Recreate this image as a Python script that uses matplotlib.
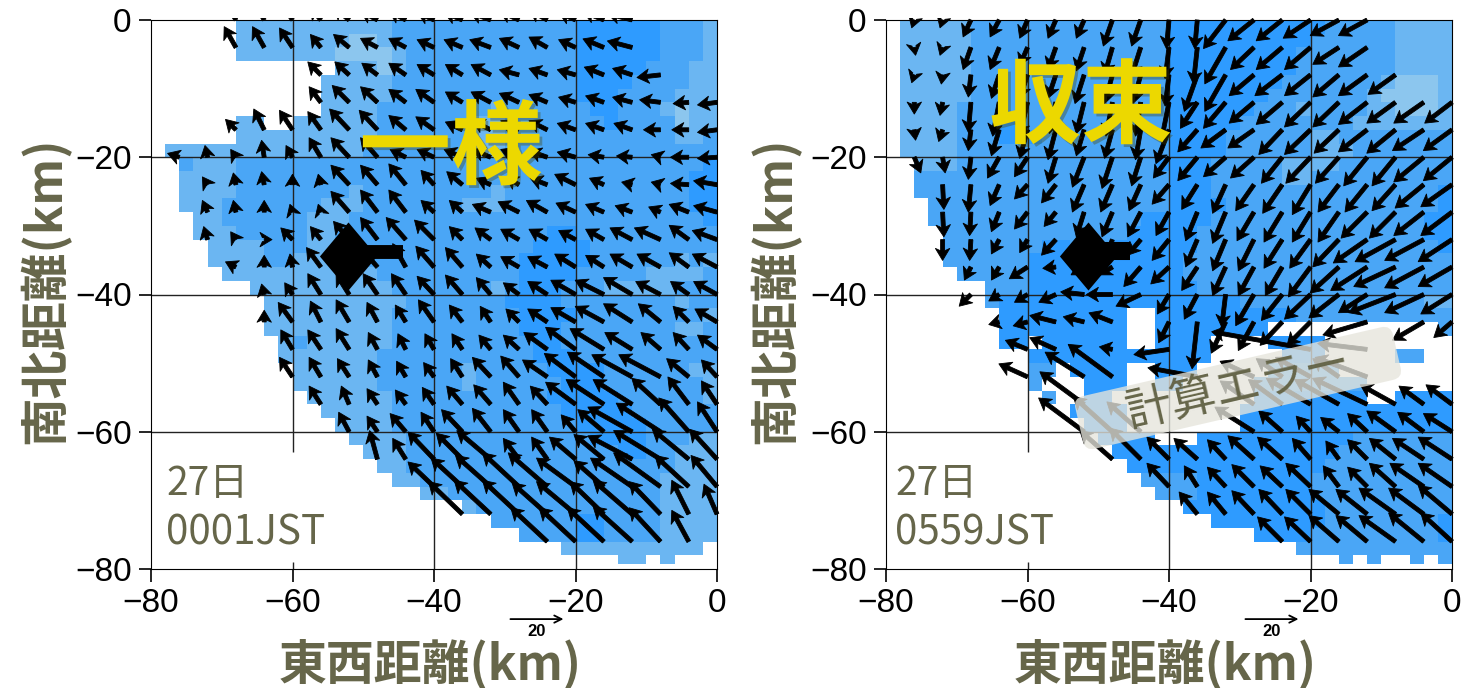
import numpy as np
import matplotlib
matplotlib.use('Agg')
import matplotlib.pyplot as plt
import matplotlib.patheffects as pe
from matplotlib.colors import ListedColormap
from matplotlib.patches import FancyBboxPatch, Rectangle
from matplotlib.transforms import Affine2D

N = np.nan

# arrow grid (km)
grid_x = [-76, -72, -68, -64, -60, -56, -52, -48, -44, -40, -36, -32, -28, -24, -20, -16, -12, -8, -4, 0]
grid_y = [0, -4, -8, -12, -16, -20, -24, -28, -32, -36, -40, -44, -48, -52, -56, -60, -64, -68, -72, -76]

# first grid column used in each row, then the winds
left_start = [2, 2, 5, 5, 2, 0, 1, 1, 1, 2, 3, 3, 4, 4, 5, 6, 7, 9, 10, 13]
left_u = [
    [-4.5, -4.5, -5, -4, -6, -6.5, -6.5, -6.5, -7, -8, -7.5, -7, -6.5, -8, -9.5],
    [-4.5, -4.5, -5, -4, -6, -6.5, -6.5, -6.5, -7, -8, -7.5, -7, -6.5, -8, -9.5],
    [-5, -5.5, -6, -6.5, -6.5, -6.5, -7.5, -7.5, -7, -7, -7.5, -7.5, -9],
    [-4.5, -6.5, -6.5, -6.5, -7, -6.5, -7.5, -7.5, -7, -6.5, -7, -7.5, -8, -6, -7.5],
    [-4, -4, -5, -5, -7.5, -7, -6.5, -7, -6.5, -7, -7, -7, -7, -7, -7, -6.5, -6.5, -7.5],
    [-4.5, -1, -2, -1, -2.5, -4.5, -7, -6.5, -6, -6.5, -7, -7, -7, -7, -7, -6, -6, -3.5, -7, -7.5],
    [-2, -1, -1, 0, -1, -7, -6.5, -6.5, -5, -6, -5.5, -5, -6.5, -8, -5.5, -4, -3.5, -7, -9],
    [-2, -1, 0, -1, -1, -7, -6.5, -6.5, -5, -5, -7, -8, -8, -7.5, -7, -6.5, -4.5, -7.5, -9],
    [-1.5, -2, 3, -4.5, -4, -6, -6.5, -7.5, -7.5, -5, -6, -7, -7, -6.5, -7, -8.5, -10, -7.5, -9.5],
    [-4, 0, -1, -5.5, -6, -6, -5, -7, -6.5, -5.5, -7, -7.5, -8, -7, -8.5, -9, -7.5, -9.5],
    [-1, -3, -5, -5, -5.5, -5.5, -6.5, -6.5, -5.5, -6, -7.5, -9.5, -11, -11, -9.5, -7, -9],
    [0, -5.5, -4, -5, -4, -4, -6, -5, -4, -5, -7.5, -9.5, -11, -11, -8.5, -6, -8.5],
    [-4.5, -5, -5, -3.5, -3, -3.5, -4, -4.5, -6, -9, -11.5, -13, -10.5, -7.5, -6, -7.5],
    [-5, -4.5, -4.5, -3.5, -3.5, -4, -4.5, -7, -7, -9.5, -12, -14, -15.5, -16, -8.5, -6],
    [-4.5, -3, -4, -4, -4.5, -6, -6.5, -6, -6.5, -11.5, -14.5, -15, -11, -8, -6],
    [-4, -4, -6, -5, -8, -7, -6, -6, -5.5, -10, -17, -17, -11.5, -7.5],
    [-3, -5, -10, -10, -13, -6, -6, -10, -11.5, -17, -18, -14, -10.5],
    [-10, -12, -13.5, -14, -15, -15, -11.5, -16, -18, -13, -10],
    [-13, -14, -14, -13.5, -15, -13, -15, -12, -6.5, -5],
    [-14, -14, -14, -15, -12, -6.5],
]
left_v = [
    [8, 8, 7.5, 5, 5, 3.5, 3.5, 3, 3, 3, 3.5, 4, 3, 3.3, 2.5],
    [8, 8, 7.5, 5, 5, 3.5, 3.5, 3, 3, 3, 3.5, 4, 3, 3.3, 2.5],
    [5, 5, 4.5, 4.5, 4, 4, 4, 2, 2.5, 2, 3, 2.5, -1],
    [6, 6.5, 6, 5, 5, 4, 4, 3.5, 3, 2, 2.5, 2, 1, -0.5, -1],
    [4, 8, 7.5, 7, 8, 7.5, 5.5, 5, 3, 3.5, 3.5, 3.5, 2.5, 2.5, 2.5, 0, 0, -1],
    [1.5, 4.5, 3, 6.5, 4.5, 7.5, 7.5, 7.5, 3, 3, 3, 3, 3, 2.5, 2, 1, 0.5, 1, 0, -0.5],
    [3, 4.5, 5, 4, 4, 7.5, 7.5, 8, 5.5, 5, 2.5, 3, 2.5, 4, 2.5, 1, 1, 0.5, 1.5],
    [4.5, 4.5, 4.5, 3, 3, 8, 8.5, 8.5, 4.5, 4.5, 3, 4, 4.5, 3.5, 3, 2.5, 2, 3, 2.5],
    [5, 3, 0, 4.5, 5, 7, 8.5, 8.5, 7.5, 5, 4.5, 4, 4, 3.5, 4, 4.5, 4.5, 5.5, 3.5],
    [2, 4.5, 5, 7.5, 7, 7, 9, 8, 7.5, 5, 4, 4, 5, 4.5, 5, 5, 5.5, 5],
    [4, 4.5, 8, 8, 8, 8, 7, 7.5, 6.5, 4.5, 5, 5.5, 5.5, 6.5, 5, 5, 5],
    [4.5, 7.5, 8, 8.5, 7.5, 6.5, 8.5, 6.5, 6, 5, 5, 5.5, 6, 7, 7, 6, 5],
    [7.5, 7.5, 8, 6.5, 6, 6, 6, 5.5, 5.5, 6.5, 8.5, 8, 6.5, 6.5, 6.5, 5.5],
    [7.5, 7.5, 7, 6.5, 6, 5.5, 7, 7.5, 8, 6.5, 9, 9.5, 8.5, 8.5, 7, 6.5],
    [7, 7, 6, 5.5, 6.5, 7, 7.5, 8.5, 7, 8.5, 9.5, 9.5, 10, 10.5, 9],
    [7.5, 6, 7, 7.5, 8.5, 9, 8.5, 8.5, 6.5, 8.5, 9.5, 11, 13, 11.5],
    [11, 8, 10.5, 10, 11, 8, 8.5, 8.5, 9.5, 9, 11, 11.5, 11.5],
    [9.5, 11, 12, 13, 13, 11, 10, 11, 13, 12, 12],
    [12.5, 13, 13, 12, 12.5, 12.5, 13, 12.5, 13, 11.5],
    [13, 13, 13, 13.5, 13, 12],
]

right_start = [0, 0, 0, 0, 0, 0, 1, 1, 1, 2, 2, 3, 4, 4, 6, 6, 7, 9, 10, 13]
right_u = [
    [-1, -1, -3, -3.5, -3, -3, -3, -3.5, -3.5, -1, -1, -8.5, -10, -10, -10.5, -11, -11],
    [0.5, -1, -3, -3.5, -3, -3, -3, -3, -3.5, -1.5, -1.5, -8, -9, -10, -10, -10, -11],
    [-1, -0.5, -1, -3, -3, -3, -3.5, -3, -3, -1.5, -5, -8, -9.5, -10.5, -10, -10, -11, -10.5],
    [0, -1, -1, -2.5, -3, -2.5, -3, -2.5, -2, -3, -6.5, -8.5, -9.5, -10, -10, -10, -11, -11, -11.5, -10.5],
    [0.5, -1.5, -1, -3, -3, -3, -3, -3, -2, -5, -7.5, -9.5, -10, -9, -10, -9.5, -11, -11, -12, -11],
    [2.5, 1, -1, -4.5, -5, -3, -4.5, -4, -3.5, -6, -7.5, -8.5, -9, -8, -9.5, -9, -9, -9, -11.5, -11],
    [0.5, -1, -3.5, -5, -5.5, -4.5, -4.5, -4.5, -6.5, -6, -5, -7, -7.5, -7, -8, -8.5, -9, -11, -12],
    [0.5, -0.5, -3, -5, -4.5, -3, -4, -5, -5, -4.5, -5, -6.5, -7, -7, -8, -10, -10, -11.5, -12],
    [0, -0.5, -3, -3, -5.5, -3, -3, -5, -6.5, -4.5, -5, -6, -7, -8, -10, -13, -15.5, -15, -13],
    [-2.5, -3, -7, -5, -5, -5, -6.5, -7, -6, -5, -6, -6.5, -8.5, -11, -14, -16, -15, -13],
    [-4.5, -4, -5, -6.5, -9, -10, -9.5, -4.5, -5, -1.5, -7, -8, -10, -11.5, -11, -18, -15, -12],
    [-4, -5.5, -10, -8, -9, N, -4, -2, -5.5, -6, -8.5, -9, N, -17, N, -12, -7],
    [-8.5, -10, N, -5, N, -13.5, N, N, N, N, -38, N, -19],
    [-11, N, -15, -17, N, N, -19, N, -13, -10, -13.5, -10, -20],
    [-17, N, N, N, N, N, -13, -13, -17, -17, -21, -13.5, -9.5, -10],
    [-17.5, -15, -13, N, N, N, -15, -9, -5.5, -7, -7.5, -11, -10, -11],
    [-12.5, -12, -8.5, -9, -7, -10, -9.5, -7, -5, -7.5, -10, -12, -13],
    [-8.5, -5, -7, -8.5, -8.5, -9.5, -6, -7.5, -10, -13, -13],
    [-7, -7, -8.5, -9, -9.5, -11.5, -12, -14, -13.5, -13],
    [-9.5, -10, -11.5, -12, -14, -13.5, -12],
]
right_v = [
    [-3, -3, -6.5, -6.5, -7, -7, -7, -10, -10, -11, -11, -11, -8, -8, -7, -6, -6],
    [-3, -3, -8.5, -8.5, -7, -8.5, -9, -10.5, -11, -12, -14, -14, -8.5, -8.5, -8.5, -6.5, -7.5],
    [-3, -3.5, -8.5, -9, -9, -9, -11, -11, -11, -12, -14, -14, -8, -8, -8, -8.5, -8, -7.5],
    [-4.5, -5, -11.5, -13, -13, -12, -12, -13, -13, -15, -10, -10, -8, -8.5, -9.5, -9.5, -8.5, -8, -8, -8],
    [-4, -4.5, -8, -10, -11, -11.5, -10, -11, -11.5, -13, -8.5, -7, -7, -9.5, -9.5, -9, -8.5, -9, -8, -8],
    [-6, -6, -8.5, -8, -7.5, -10, -11.5, -12, -11, -8, -9, -7.5, -8, -10, -10, -10, -11, -11, -9.5, -9],
    [-9.5, -10.5, -8, -5.5, -7, -10.5, -10.5, -10, -7.5, -9.5, -11, -10, -11, -11.5, -10.5, -10.5, -10, -9, -8.5],
    [-9.5, -9, -7.5, -6.5, -5.5, -9.5, -9.5, -9.5, -9, -11, -12, -11, -11.5, -11.5, -11.5, -10, -10, -9, -9],
    [-8, -8, -5.5, -5, -6, -8, -8, -6, -8, -10.5, -12, -12, -11, -11, -10.5, -9, -8.5, -8, -8.5],
    [-5, -5, -4.5, -0.5, -3, -3, -7.5, -6.5, -9, -11, -11, -11, -11.5, -10, -9, -7.5, -8, -7.5],
    [-4.5, -2.5, -3, -3, 1, 0, -4.5, -7.5, -9.5, -12.5, -12, -10, -9.5, -9, -7, -7, -7, -7.5],
    [-1, -1.5, 2.5, 2, 3.5, N, -8, -18, -12, -11, -9, -9, N, -5, N, -7, -6],
    [3.5, 4.5, N, 1, N, -2, N, N, N, N, 6.8, N, 2.3],
    [5, N, 9.5, 12.5, N, N, 3.5, N, 6, 7, 7.5, 7, 7.5],
    [12.5, N, N, N, N, N, 9, 9.5, 10, 9.5, 10, 7.5, 7, 7.5],
    [13, 13.5, 11.5, N, N, N, 9.5, 8, 6, 5.5, 7, 8, 7.5, 7],
    [11, 12, 8.5, 8, 7.5, 9, 8.5, 8, 7, 7.5, 8, 8, 8.5],
    [9, 8, 7.5, 8.5, 8, 9, 8, 7.5, 9, 9, 9],
    [8.5, 8.5, 9, 9.5, 9.5, 9.5, 9.5, 10, 10, 11],
    [9.5, 9.5, 10, 10, 10, 11, 11],
]

# echo level per 2 km cell, top row first, '.' = no data
left_field = [
    "..... .1111 11111 11222 22222 22222 33333 32221",
    "..... .1111 11110 01222 22222 22222 33333 32221",
    "..... .1111 11100 00122 22222 22222 33333 32221",
    "..... ..... ...11 10122 22222 22222 33333 22211",
    "..... ..... ..111 11222 22222 22222 33332 22211",
    "..... ..... ..111 11222 22222 22222 33322 22111",
    "..... ..... ..111 12222 22221 22222 23322 21011",
    "..... .11.. 11111 12222 22211 22222 22322 22011",
    "..... .1111 11111 12222 22211 22222 22222 22112",
    ".1111 11111 11111 22222 22211 22222 22222 22222",
    "..211 12222 22222 22222 22222 22222 22222 22223",
    "..111 12222 22222 22222 22222 22222 22222 22233",
    "..111 12222 22221 22222 22221 22222 22222 22233",
    "..111 22222 22111 22222 22111 22222 22222 22233",
    "...11 22222 21112 22222 22222 22222 22222 22223",
    "...11 12222 21122 22222 22222 22233 22222 22222",
    "....1 11122 21122 22222 22222 22333 32222 22222",
    "....1 11122 11111 22222 22222 23333 32222 22121",
    "..... 11111 11111 12222 22222 23333 22222 11112",
    "..... ..111 11111 11222 22221 23332 22111 11222",
    "..... ...11 11111 11122 22222 33332 22222 22122",
    "..... ...11 11111 11222 22222 23333 22222 22221",
    "..... ...11 11111 11222 22222 23332 22222 22112",
    "..... ....1 21111 11222 22222 22332 22222 22222",
    "..... ....1 11111 12222 22222 22333 22222 22222",
    "..... ..... 11111 12222 22122 22233 33222 22211",
    "..... ..... 11111 12222 22122 22223 33222 22221",
    "..... ..... .1111 11222 22222 22233 33322 22221",
    "..... ..... ..111 11222 22222 22223 33332 22222",
    "..... ..... ...11 11222 22222 22222 33333 22222",
    "..... ..... ....1 11122 22222 22222 23333 22211",
    "..... ..... ..... 11122 22222 22222 22233 22111",
    "..... ..... ..... .1122 22222 22222 22222 22111",
    "..... ..... ..... ..112 22222 22222 22222 21111",
    "..... ..... ..... ....1 12222 22222 22222 21111",
    "..... ..... ..... ..... ..122 22222 22222 21111",
    "..... ..... ..... ..... ....2 22222 33222 21111",
    "..... ..... ..... ..... ..... .2222 33222 21111",
    "..... ..... ..... ..... ..... ....1 11111 1111.",
    "..... ..... ..... ..... ..... ..... ...11 .1...",
]
right_field = [
    ".1111 12222 22222 22222 33333 33333 32222 21111",
    ".1111 12222 22222 22222 33333 33333 22222 21111",
    ".1111 12222 22222 22222 33333 33332 22222 21111",
    ".1111 12222 22222 22222 33333 33332 22222 21111",
    ".1111 12222 22222 22222 33333 33322 22222 10001",
    ".1111 12222 22222 22222 33333 33222 22221 00001",
    ".1111 22222 22222 22222 33333 32221 22221 10001",
    ".1111 22233 22222 22222 33333 22222 22211 11111",
    ".1111 22233 32222 22222 33332 22222 11222 22222",
    ".1111 22222 22222 22222 33332 22222 11122 22222",
    "..111 22222 22222 22223 33322 22211 11222 22222",
    "..222 22222 22222 22222 33322 22211 22222 22222",
    "..222 22222 22222 22222 33322 22222 22222 22223",
    "...22 22222 22222 22222 33332 22222 22222 22223",
    "...22 22222 22222 22233 33322 22222 22222 22233",
    "....2 22222 22222 22333 33222 22222 22222 22233",
    "....2 22222 23322 23333 33222 22222 22222 22223",
    "....2 22222 33333 33333 32222 22222 22222 22222",
    "..... 22222 33333 33333 32222 22222 22222 22222",
    "..... ..222 33333 33333 33222 22222 22222 22222",
    "..... ..233 33333 33333 33333 22222 22222 22211",
    "..... ...33 33333 33..3 33333 33332 22222 22222",
    "..... ...33 33333 33..3 33333 33... ..... ....2",
    "..... ...33 .3333 33..3 333.. ..333 3.... .....",
    "..... ..... 33333 33333 333.. ...33 3.... .22..",
    "..... ..... 22.33 33..3 33... ..222 22... .....",
    "..... ..... 2...3 33..3 3.... .2222 2222. .....",
    "..... ..... .2..3 3.... ..... .3333 3333. .3333",
    "..... ..... ...33 33... ..... 33333 33333 33333",
    "..... ..... ....3 33... ..... 33333 33333 33333",
    "..... ..... ..... 3333. ..333 33333 33322 22222",
    "..... ..... ..... .3333 33333 33333 33222 22222",
    "..... ..... ..... ..333 33333 33333 32222 22222",
    "..... ..... ..... ...22 22333 33333 22222 22222",
    "..... ..... ..... ....2 22333 33333 22222 22222",
    "..... ..... ..... ..... .3333 33333 32222 22222",
    "..... ..... ..... ..... ...33 33333 32222 22223",
    "..... ..... ..... ..... ..... .3333 22222 22223",
    "..... ..... ..... ..... ..... ....2 22222 22222",
    "..... ..... ..... ..... ..... ..... ..2.2 ..2.2",
]
level_colors = ['#8cc6ee', '#6bb6f2', '#4aa6f6', '#2e9bff']

ticks = [-80, -60, -40, -20, 0]
times = ['0001JST', '0559JST']
titles = ['一様', '収束']
site_x = [-52.1, -51.4]
site_y = [-34.4, -34.4]
wedge_from = [-50.0, -49.5]
wedge_to = [-44.4, -45.5]
wedge_y = [-33.8, -33.6]
wedge_lw = [10, 13]
ylabel_x = [45, 775]
stamp_x = [166, 895]

W, H = 1479, 688
ink = '#66664a'
jp = ['Noto Sans CJK JP', 'DejaVu Sans']
num_font = ['Liberation Sans Narrow', 'Liberation Sans']
site_marker = [(-0.84, 0), (0, 1), (0.84, 0), (0, -1)]

fig = plt.figure(figsize=(W / 100, H / 100), dpi=100)


def px(x, y):
    return x / W, 1 - y / H


def field_array(rows):
    out = np.full((40, 40), np.nan)
    for j, row in enumerate(rows):
        row = row.replace(' ', '')
        for i, c in enumerate(row[:40]):
            if c != '.':
                out[j, i] = int(c)
    return np.ma.masked_invalid(out)


def draw_panel(left_px, field, start, u_rows, v_rows, idx):
    ax = fig.add_axes([left_px / W, (H - 569) / H, 566 / W, 549 / H])
    xe = np.arange(-80, 1, 2)
    ye = np.arange(0, -81, -2).astype(float)
    ye[-1] = -79.2
    ax.pcolormesh(xe, ye, field_array(field), cmap=ListedColormap(level_colors),
                  vmin=-0.5, vmax=3.5, zorder=1)

    # grid, the -60 line stops above the time label
    for g in [-20, -40, -60]:
        ax.axhline(g, color='#222222', lw=1, zorder=2)
    for g in [-20, -40]:
        ax.axvline(g, color='#222222', lw=1, zorder=2)
    ax.vlines(-60, -63, 0, color='#222222', lw=1, zorder=2)
    ax.vlines(-60, -80, -79, color='#222222', lw=1, zorder=2)

    xs, ys, us, vs = [], [], [], []
    for y, s, ur, vr in zip(grid_y, start, u_rows, v_rows):
        for k, (a, b) in enumerate(zip(ur, vr)):
            if not np.isnan(a):
                xs.append(grid_x[s + k])
                ys.append(y)
                us.append(a)
                vs.append(b)
    q = ax.quiver(xs, ys, us, vs, angles='uv', scale_units='dots', scale=1 / 2.6,
                  units='dots', width=4.0, headwidth=3.6, headlength=3.0,
                  headaxislength=2.4, minshaft=0, minlength=0, pivot='tail',
                  color='black', edgecolor='black', linewidth=0.6, zorder=3)
    q.set_clip_path(Rectangle((-80.5, -80), 81.5, 80.3, transform=ax.transData))

    # radar site
    ax.plot([site_x[idx]], [site_y[idx]], marker=site_marker, ms=49, color='black',
            mew=0, zorder=4)
    ax.plot([wedge_from[idx], wedge_to[idx]], [wedge_y[idx], wedge_y[idx]],
            color='black', lw=wedge_lw[idx], zorder=4, solid_capstyle='butt')

    ax.set_xlim(-80, 0)
    ax.set_ylim(-80, 0)
    ax.set_xticks(ticks)
    ax.set_yticks(ticks)
    ax.tick_params(length=9, width=1.2, pad=5, labelsize=24)
    for t in ax.get_xticklabels() + ax.get_yticklabels():
        t.set_family(num_font)

    # reference arrow under the axis
    ax.annotate('', xy=(-21.7, -87.3), xytext=(-29.2, -87.3), annotation_clip=False,
                arrowprops=dict(arrowstyle='->', lw=1.3, color='black',
                                shrinkA=0, shrinkB=0, mutation_scale=13))
    fig.text(*px(left_px + 386, 631), '20', fontsize=12, fontweight='bold',
             ha='center', va='center', family=num_font)

    fig.text(*px(left_px + 279, 664), '東西距離(km)', fontsize=34.5, fontweight='bold',
             color=ink, ha='center', va='center', family=jp)
    fig.text(*px(ylabel_x[idx], 290), '南北距離(km)', fontsize=35, fontweight='bold',
             color=ink, rotation=90, ha='center', va='center', family=jp)
    fig.text(*px(stamp_x[idx], 484), '27日', fontsize=28, color=ink,
             ha='left', va='center', family=jp)
    fig.text(*px(stamp_x[idx], 533), times[idx], fontsize=29, color=ink,
             ha='left', va='center', family=jp)
    return ax


ax1 = draw_panel(151, left_field, left_start, left_u, left_v, 0)
ax2 = draw_panel(886, right_field, right_start, right_u, right_v, 1)

shadow = [pe.SimplePatchShadow(offset=(2, -2), alpha=0.35), pe.Normal()]
fig.text(*px(451, 150), titles[0], fontsize=66, fontweight='bold', color='#ecd800',
         ha='center', va='center', family=jp, path_effects=shadow, zorder=20)
fig.text(*px(1081, 109), titles[1], fontsize=66, fontweight='bold', color='#ecd800',
         ha='center', va='center', family=jp, path_effects=shadow, zorder=20)

# grey tag over the failed area
cx, cy = 1238, H - 388
tag = FancyBboxPatch((cx - 163, cy - 27), 326, 54, boxstyle='round,pad=0,rounding_size=10',
                     transform=Affine2D().rotate_deg_around(cx, cy, 13),
                     fc='#e6e5dc', ec='none', alpha=0.78, zorder=15)
fig.add_artist(tag)
fig.text(cx / W, cy / H, '計算エラー', fontsize=33, color=ink, rotation=13,
         rotation_mode='anchor', ha='center', va='center', family=jp, zorder=16)

fig.savefig('out.png', dpi=100)
